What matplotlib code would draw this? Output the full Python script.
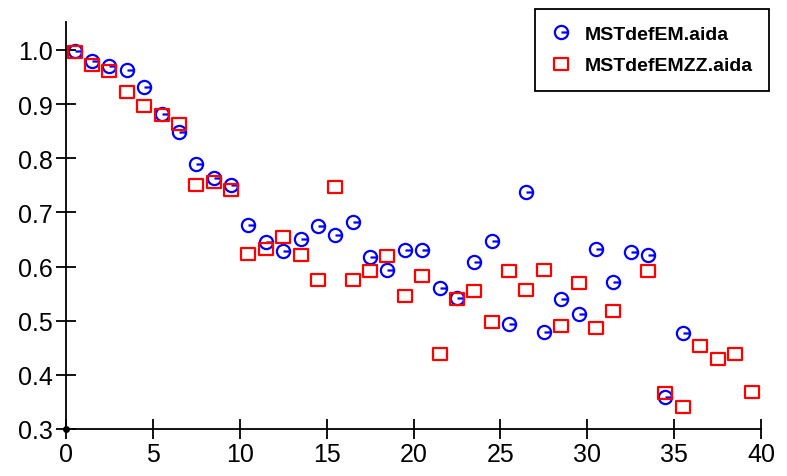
import matplotlib
matplotlib.use('Agg')
import numpy as np
import matplotlib.pyplot as plt
from matplotlib.path import Path

# bin centres and values
x_em = np.arange(0.5, 36, 1.0)
y_em = [0.998, 0.980, 0.971, 0.963, 0.932, 0.882, 0.848, 0.789, 0.763, 0.750,
        0.677, 0.645, 0.628, 0.650, 0.674, 0.658, 0.683, 0.617, 0.594, 0.631,
        0.630, 0.561, 0.541, 0.608, 0.648, 0.493, 0.737, 0.480, 0.540, 0.512,
        0.633, 0.571, 0.627, 0.621, 0.360, 0.478]

x_emzz = np.arange(0.5, 40, 1.0)
y_emzz = [0.996, 0.972, 0.961, 0.922, 0.897, 0.880, 0.863, 0.750, 0.756, 0.741,
          0.623, 0.632, 0.654, 0.621, 0.575, 0.747, 0.575, 0.591, 0.619, 0.545,
          0.582, 0.438, 0.540, 0.555, 0.498, 0.591, 0.556, 0.593, 0.490, 0.569,
          0.487, 0.517, np.nan, 0.591, 0.367, 0.341, 0.453, 0.429, 0.438, 0.369]

labels = ['MSTdefEM.aida', 'MSTdefEMZZ.aida']
x_ticks = [0, 5, 10, 15, 20, 25, 30, 35, 40]
y_ticks = [0.3, 0.4, 0.5, 0.6, 0.7, 0.8, 0.9, 1.0]

# circle with a dash from the centre to the right edge
circ = Path.unit_circle()
dash = Path([(0, 0), (1, 0)], [Path.MOVETO, Path.LINETO])
circ_marker = Path.make_compound_path(circ, dash)
# slightly wide open rectangle
w, h = 1.0, 0.85
rect_marker = Path([(-w, -h), (w, -h), (w, h), (-w, h), (-w, -h)],
                   [Path.MOVETO, Path.LINETO, Path.LINETO, Path.LINETO, Path.CLOSEPOLY])

plt.rcParams['font.family'] = ['Liberation Sans', 'DejaVu Sans']

fig = plt.figure(figsize=(7.87, 4.77), dpi=100)
ax = fig.add_axes([66/787., 1 - 430/477., (761 - 66)/787., (430 - 22.7)/477.])

l1, = ax.plot(x_em, y_em, linestyle='none', marker=circ_marker, markersize=9.5,
              markerfacecolor='none', markeredgecolor='#0000ff', markeredgewidth=1.6,
              clip_on=False, zorder=3)
l2, = ax.plot(x_emzz, y_emzz, linestyle='none', marker=rect_marker, markersize=10.5,
              markerfacecolor='none', markeredgecolor='#ff0000', markeredgewidth=1.6,
              clip_on=False, zorder=3)
ax.plot([0], [0.3], 'o', color='black', markersize=4, clip_on=False, zorder=4)

ax.set_xlim(0, 40)
ax.set_ylim(0.3, 1.052)
ax.set_xticks(x_ticks)
ax.set_yticks(y_ticks)
ax.set_yticklabels(['%.1f' % v for v in y_ticks])
ax.tick_params(direction='inout', length=14.5, width=1.3, labelsize=18, pad=2)
for s in ['top', 'right']:
    ax.spines[s].set_visible(False)
for s in ['left', 'bottom']:
    ax.spines[s].set_linewidth(1.3)

leg = fig.legend([l1, l2], labels, loc='upper left',
                 bbox_to_anchor=(535/787., 1 - 10/477.), borderaxespad=0,
                 fancybox=False, edgecolor='black', framealpha=1,
                 prop={'weight': 'bold', 'size': 14}, handlelength=1.0,
                 handletextpad=0.7, borderpad=0.85, labelspacing=0.7)
leg.get_frame().set_linewidth(1.3)

plt.savefig('out.png', format='png')
